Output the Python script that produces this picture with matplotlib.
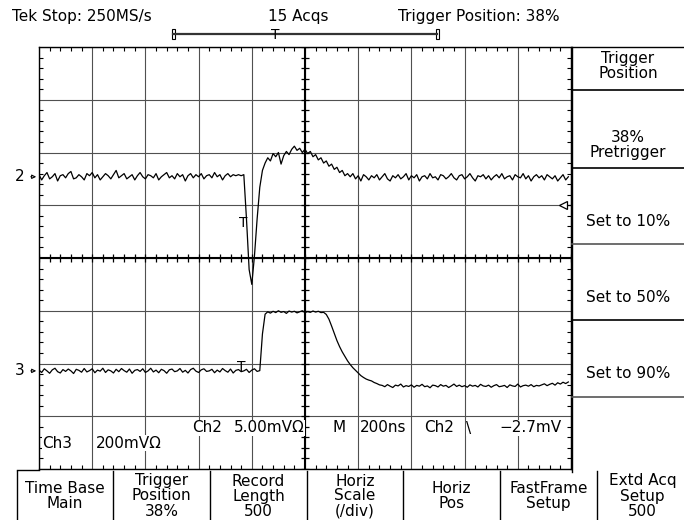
import matplotlib.pyplot as plt
import numpy as np
from matplotlib.patches import Rectangle

# scope settings
t_start = -760        # ns, 38% pretrigger of a 10 div record
t_step = 10           # ns between plotted samples
ns_per_div = 200
ch2_mv_per_div = 5.0
ch3_mv_per_div = 200.0
ch2_offset = 1.54     # div above centre
ch3_offset = -2.14    # div below centre
trig_level = -2.7     # mV on Ch2
trig_pos = 0.38

# Ch2 (mV) every 10 ns from -760 ns
ch2_mv = [
    0.2, -0.3, 0.1, 0.4, -0.2, 0.0, 0.3, -0.4, 0.1, 0.2,
    -0.1, 0.3, 0.5, -0.2, -0.1, 0.2, 0.0, -0.3, 0.3, 0.1,
    0.4, -0.1, 0.2, -0.3, 0.0, 0.3, 0.1, -0.2, 0.2, 0.6,
    -0.1, 0.1, 0.3, -0.2, 0.0, 0.2, -0.3, 0.1, 0.4, 0.0,
    -0.2, 0.2, 0.1, -0.1, 0.3, -0.3, 0.0, 0.2, 0.4, -0.1,
    0.1, -0.2, 0.3, 0.0, 0.2, -0.4, 0.1, 0.3, -0.1, 0.2,
    0.0, 0.3, -0.2, 0.1, 0.2, -0.1, 0.4, 0.0, 0.2, -0.3,
    0.1, 0.3, 0.0, 0.2, 0.1, 0.2, 0.1,
    0.2, -4.0, -8.8, -10.2, -7.5, -4.0, -1.0, 0.6, 1.3, 1.8,
    1.5, 2.2, 1.9, 2.3, 1.2, 2.0, 2.4, 2.1, 2.6, 2.9,
    2.5, 2.7, 2.3, 2.6, 2.2, 2.4, 1.9, 2.1, 1.6, 1.8,
    1.3, 1.5, 1.0, 1.2, 0.7, 0.9, 0.4, 0.6, 0.1, 0.3,
    0.0, 0.3, -0.2, 0.1, -0.4, 0.2, 0.0, -0.3, 0.1, -0.1,
    0.2, -0.3, 0.0, 0.3, -0.2, -0.4, 0.1, -0.1, 0.2, -0.2,
    0.0, 0.3, -0.3, 0.1, -0.1, 0.2, -0.4, 0.0, 0.1, -0.2,
    0.3, -0.1, 0.0, -0.3, 0.2, 0.1, -0.2, 0.0, 0.3, -0.1,
    -0.3, 0.1, 0.2, -0.2, 0.0, 0.3, -0.1, -0.4, 0.1, 0.0,
    0.2, -0.2, 0.1, -0.3, 0.0, 0.2, -0.1, 0.3, -0.2, 0.0,
    0.1, -0.3, 0.2, 0.0, -0.1, 0.3, -0.2, 0.1, -0.4, 0.0,
    0.2, -0.1, 0.1, -0.3, 0.2, 0.0, -0.2, 0.1, -0.4, -0.1,
    0.2, -0.3, 0.0,
]

# Ch3 (mV) every 10 ns from -760 ns
ch3_mv = [
    3, -6, 8, 0, -9, 4, 10, -3, -8, 5,
    -2, 7, 0, -10, 6, 2, -5, 9, -4, 1,
    8, -7, 3, -1, 10, -6, 4, 0, -8, 6,
    -3, 9, 1, -5, 7, -9, 2, 5, -2, 8,
    -6, 0, 10, -4, 3, -7, 6, 1, -9, 4,
    7, -3, 0, 9, -5, 2, -8, 5, 10, -1,
    -6, 4, 8, -2, 0, 6, -7, 3, -4, 9,
    1, -5, 7, -8, 2, 5, -3, 0, 6, -6,
    3, 8, -2, 1,
    140, 215,
    224, 219, 226, 221, 228, 222, 225, 218, 227, 223,
    226, 220, 224, 228, 221, 225, 222, 227, 223, 226, 221,
    222, 214, 196, 170, 142, 115, 92, 72, 55, 38,
    24, 12, 2, -8, -18, -25, -31, -35, -38, -44, -48, -53,
    -55, -60, -52, -58, -63, -54, -57, -50, -61, -56,
    -59, -53, -62, -55, -58, -51, -60, -57, -64, -54,
    -56, -61, -52, -58, -55, -63, -57, -50, -59, -54,
    -60, -56, -62, -53, -58, -55, -61, -51, -57, -59,
    -54, -62, -56, -52, -60, -58, -55, -63, -53, -57,
    -59, -50, -61, -56, -54, -58, -52, -60, -55, -57,
    -53, -49, -56, -51, -47, -54, -45, -50, -43, -48,
    -42,
]

side_labels = ["Trigger\nPosition", "38%\nPretrigger", "Set to 10%",
               "Set to 50%", "Set to 90%"]
side_y = [66, 145, 222, 297, 374]
bottom_labels = ["Time Base\nMain", "Trigger\nPosition\n38%", "Record\nLength\n500",
                 "Horiz\nScale\n(/div)", "Horiz\nPos", "FastFrame\nSetup",
                 "Extd Acq\nSetup\n500"]

t = t_start + t_step * np.arange(len(ch2_mv))
t_end = t_start + 10 * ns_per_div
t_mid = t_start + 5 * ns_per_div

W, H = 684, 520
L, R, T, B = 39, 571, 47, 469
FS = 11

fig = plt.figure(figsize=(W / 100, H / 100), dpi=100)
ax = fig.add_axes([L / W, 1 - B / H, (R - L) / W, (B - T) / H])
ax.set_xlim(t_start, t_end)
ax.set_ylim(-4, 4)

# graticule
ax.set_xticks(np.arange(t_start, t_end + 1, ns_per_div))
ax.set_yticks(np.arange(-4, 5, 1))
ax.set_xticks(np.arange(t_start, t_end + 1, ns_per_div / 5), minor=True)
ax.set_yticks(np.arange(-4, 4.01, 0.2), minor=True)
ax.tick_params(which='both', labelbottom=False, labelleft=False,
               top=True, right=True, direction='in')
ax.tick_params(which='major', length=0)
ax.tick_params(which='minor', length=3, width=0.8)
ax.grid(which='major', color='#505050', lw=0.8)
for s in ax.spines.values():
    s.set_linewidth(1.0)
ax.axvline(t_mid, color='k', lw=1.5)
ax.axhline(0, color='k', lw=1.5)
mx = np.arange(t_start, t_end + 1, ns_per_div / 5)
my = np.arange(-4, 4.01, 0.2)
ax.plot(mx, np.zeros_like(mx), '|', color='k', ms=6, mew=0.9)
ax.plot(np.full_like(my, t_mid), my, '_', color='k', ms=6, mew=0.9)

# traces
ax.plot(t, ch2_offset + np.array(ch2_mv) / ch2_mv_per_div, color='k', lw=0.9, zorder=4)
ax.plot(t, ch3_offset + np.array(ch3_mv) / ch3_mv_per_div, color='k', lw=0.9, zorder=4)

# channel ground markers
ytr = ax.get_yaxis_transform()
for lab, off in [("2", ch2_offset), ("3", ch3_offset)]:
    ax.text(-0.027, off, lab, transform=ytr, ha='right', va='center',
            fontsize=FS, clip_on=False)
    ax.annotate('', xy=(0, off), xycoords=ytr, xytext=(-11, 0),
                textcoords='offset pixels',
                arrowprops=dict(arrowstyle='-|>', color='k', lw=0.8,
                                mutation_scale=6, fc='white'))

# trigger level marker on right edge
lvl = ch2_offset + trig_level / ch2_mv_per_div
ax.plot([0.985, 1.0], [lvl, lvl], color='k', lw=0.9, transform=ytr, clip_on=False)
ax.plot([0.985], [lvl], marker='<', ms=6, mfc='white', mec='k', mew=0.9,
        transform=ytr, clip_on=False)

# trigger T on traces
ax.annotate('T', xy=(0, lvl), xytext=(2, -22), textcoords='offset pixels',
            ha='center', va='baseline', fontsize=10)
ax.text(0, ch3_offset, 'T', ha='center', va='baseline', fontsize=10)

# overlay in screen pixels for the menus and readouts
bg = fig.add_axes([0, 0, 1, 1])
bg.set_xlim(0, W)
bg.set_ylim(H, 0)
bg.axis('off')

bg.text(12, 16, "Tek Stop: 250MS/s", fontsize=FS, va='center')
bg.text(298, 16, "15 Acqs", fontsize=FS, va='center', ha='center')
bg.text(398, 16, "Trigger Position: 38%", fontsize=FS, va='center')
bx0, bx1 = 173, 437
bg.plot([bx0, bx1], [34, 34], color='#333333', lw=1.6)
for xx in (bx0, bx1):
    bg.add_patch(Rectangle((xx - 1.5, 29), 3, 10, fc='white', ec='k', lw=0.8))
bg.text(bx0 + trig_pos * (bx1 - bx0) + 2, 35, 'T', fontsize=10, ha='center', va='center')

# right side menu
bg.plot([572, 572], [T, 472], color='k', lw=1)
bg.plot([572, W], [T, T], color='k', lw=1)
for yy, c in [(90, 'k'), (168, 'k'), (244, '#555555'), (320, 'k'), (397, '#555555')]:
    bg.plot([572, W], [yy, yy], color=c, lw=1.2)
for lab, yy in zip(side_labels, side_y):
    bg.text(628, yy, lab, fontsize=FS, ha='center', va='center', linespacing=1.0)

# bottom menu
edges = [17, 113, 210, 307, 403, 500, 597, 700]
bg.plot([17, 39], [470, 470], color='k', lw=1)
for i, lab in enumerate(bottom_labels):
    bg.plot([edges[i], edges[i]], [471, H], color='k', lw=1)
    bg.text((edges[i] + min(edges[i + 1], W + 4)) / 2, 496, lab, fontsize=FS,
            ha='center', va='center', linespacing=1.0)

# readouts on the graticule
wbox = dict(fc='white', ec='none', pad=0.3)
for x0, word in [(42, "Ch3"), (96, "200mV\u03a9")]:
    bg.text(x0, 443, word, fontsize=FS, va='center', bbox=wbox)
for x0, word in [(192, "Ch2"), (234, "5.00mV\u03a9"), (332, "M"), (360, "200ns"),
                 (424, "Ch2"), (466, "\\"), (499, "\u22122.7mV")]:
    bg.text(x0, 428, word, fontsize=FS, va='center', bbox=wbox)

fig.savefig("out.png", dpi=100, facecolor='white')
